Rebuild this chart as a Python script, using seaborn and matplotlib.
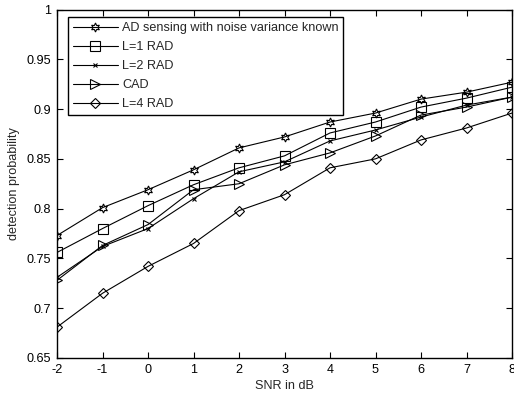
import matplotlib
matplotlib.use("Agg")
import matplotlib.pyplot as plt
import seaborn as sns
import pandas as pd

# SNR sweep (dB)
snr_db = [-2, -1, 0, 1, 2, 3, 4, 5, 6, 7, 8]

# Detection probability per detector
ad_known_noise = [0.773, 0.801, 0.819, 0.839, 0.861, 0.872, 0.887, 0.896, 0.910, 0.917, 0.927]
rad_l1 = [0.756, 0.780, 0.803, 0.824, 0.841, 0.853, 0.876, 0.887, 0.902, 0.911, 0.922]
rad_l2 = [0.731, 0.762, 0.780, 0.810, 0.837, 0.847, 0.868, 0.879, 0.892, 0.904, 0.912]
cad = [0.728, 0.763, 0.784, 0.819, 0.825, 0.844, 0.856, 0.873, 0.894, 0.902, 0.912]
rad_l4 = [0.681, 0.715, 0.742, 0.765, 0.798, 0.814, 0.841, 0.850, 0.869, 0.881, 0.896]

labels = ["AD sensing with noise variance known", "L=1 RAD", "L=2 RAD", "CAD", "L=4 RAD"]
series = [ad_known_noise, rad_l1, rad_l2, cad, rad_l4]

x_ticks = [-2, -1, 0, 1, 2, 3, 4, 5, 6, 7, 8]
y_ticks = [0.65, 0.7, 0.75, 0.8, 0.85, 0.9, 0.95, 1.0]
y_ticklabels = ["0.65", "0.7", "0.75", "0.8", "0.85", "0.9", "0.95", "1"]

FS = 9.1

sns.set_theme(style="white")
plt.rcParams["font.family"] = ["Liberation Sans", "DejaVu Sans"]
plt.rcParams["font.size"] = FS

fig = plt.figure(figsize=(5.14, 3.97), dpi=100)
W, H = 514, 397
ax = fig.add_axes([57 / W, (H - 358) / H, (512 - 57) / W, (358 - 9.5) / H])

styles = [
    dict(marker=(6, 1, 0), markersize=6.5),
    dict(marker="s", markersize=7),
    dict(marker="x", markersize=3.5),
    dict(marker=">", markersize=7.5),
    dict(marker="D", markersize=5.5),
]

for lab, vals, st in zip(labels, series, styles):
    df = pd.DataFrame({"snr": snr_db, "pd": vals})
    sns.lineplot(data=df, x="snr", y="pd", ax=ax, color="black", linewidth=0.8,
                 markerfacecolor="none", markeredgecolor="black",
                 markeredgewidth=0.8, label=lab, **st)

ax.set_xlim(-2, 8)
ax.set_ylim(0.65, 1.0)
ax.set_xticks(x_ticks)
ax.set_xticklabels([str(t) for t in x_ticks])
ax.set_yticks(y_ticks)
ax.set_yticklabels(y_ticklabels)
ax.set_xlabel("SNR in dB", fontsize=FS, labelpad=3)
ax.set_ylabel("detection probability", fontsize=FS, labelpad=5)

ax.tick_params(direction="in", length=4, width=0.8, colors="black",
               top=True, right=True, bottom=True, left=True,
               labelsize=FS, pad=4)
for sp in ax.spines.values():
    sp.set_color("black")
    sp.set_linewidth(1.0)
    sp.set_visible(True)

leg = ax.legend(loc="upper left", bbox_to_anchor=(0.024, 0.978), frameon=True,
                fancybox=False, edgecolor="black", framealpha=1,
                fontsize=FS, handlelength=3.6, labelspacing=0.56,
                borderpad=0.38, handletextpad=0.3, borderaxespad=0)
leg.get_frame().set_linewidth(1.0)

fig.savefig("out.png", dpi=100)
